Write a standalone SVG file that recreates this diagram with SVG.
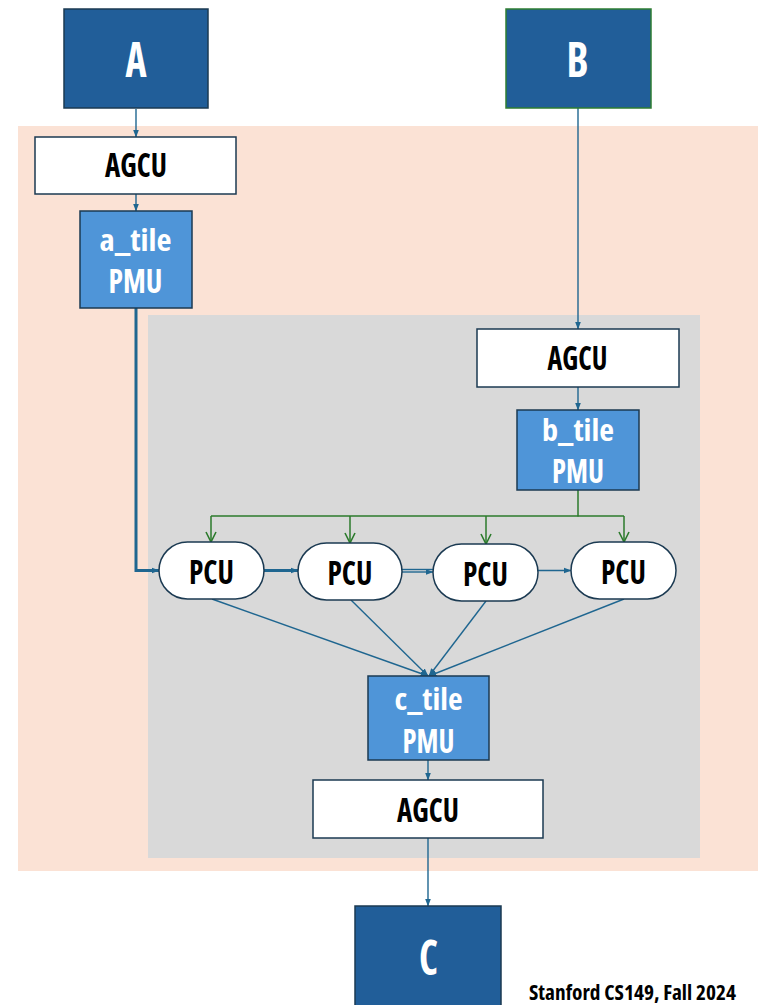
<svg xmlns="http://www.w3.org/2000/svg" width="759" height="1005" viewBox="0 0 759 1005">
  <defs>
    <marker id="arrowBlue" viewBox="0 0 8 8" refX="7.5" refY="4" markerWidth="8" markerHeight="8" markerUnits="userSpaceOnUse" orient="auto">
      <path d="M0,1 L8,4 L0,7 Z" fill="#1f6690"/>
    </marker>
    <marker id="arrowGreen" viewBox="0 0 12 12" refX="11" refY="6" markerWidth="12" markerHeight="12" markerUnits="userSpaceOnUse" orient="auto">
      <path d="M1,1 L11,6 L1,11" fill="none" stroke="#2b7a2b" stroke-width="1.6"/>
    </marker>
  </defs>
  <style>
    .t { font-family: "Open Sans", "Liberation Sans", sans-serif; font-weight: 700; font-stretch: condensed; text-anchor: middle; }
    .big { fill: #215e99; stroke: #1b3a52; stroke-width: 1.5; }
    .bigB { fill: #215e99; stroke: #2e7d32; stroke-width: 1.5; }
    .agcu { fill: #ffffff; stroke: #1b3a52; stroke-width: 1.5; }
    .pmu { fill: #4f95d8; stroke: #1b3a52; stroke-width: 1.5; }
    .pcu { fill: #ffffff; stroke: #1b3a52; stroke-width: 1.5; }
    .white { fill: #ffffff; }
    .black { fill: #000000; }
    .wire { fill: none; stroke: #1f6690; stroke-width: 1.4; }
    .thick { fill: none; stroke: #1f6690; stroke-width: 3; }
    .green { fill: none; stroke: #2b7a2b; stroke-width: 1.5; }
  </style>

  <!-- backgrounds -->
  <rect x="18" y="126" width="740" height="745" fill="#fbe2d5"/>
  <rect x="148" y="315" width="552" height="543" fill="#d9d9d9"/>

  <!-- connectors -->
  <g id="connectors">
    <line class="wire" x1="136" y1="109" x2="136" y2="137" marker-end="url(#arrowBlue)"/>
    <line class="wire" x1="136" y1="194" x2="136" y2="211" marker-end="url(#arrowBlue)"/>
    <path class="thick" d="M136,308 V570.5 H159" marker-end="url(#arrowBlue)"/>
    <line class="wire" x1="578" y1="108" x2="578" y2="329" marker-end="url(#arrowBlue)"/>
    <line class="wire" x1="578" y1="387" x2="578" y2="410" marker-end="url(#arrowBlue)"/>

    <path class="green" d="M578,490 V516.5" stroke-width="2.2"/>
    <path class="green" d="M211,516 H624"/>
    <line class="green" x1="211" y1="516" x2="211" y2="542" marker-end="url(#arrowGreen)"/>
    <line class="green" x1="350" y1="516" x2="350" y2="543" marker-end="url(#arrowGreen)"/>
    <line class="green" x1="486" y1="516" x2="486" y2="544" marker-end="url(#arrowGreen)"/>
    <line class="green" x1="624" y1="516" x2="624" y2="542" marker-end="url(#arrowGreen)"/>

    <line class="thick" x1="264" y1="570.5" x2="298" y2="570.5" marker-end="url(#arrowBlue)"/>
    <line class="wire" x1="402" y1="569.5" x2="433" y2="569.5"/>
    <line class="wire" x1="402" y1="572" x2="433" y2="572" marker-end="url(#arrowBlue)"/>
    <line class="wire" x1="538" y1="570.5" x2="571" y2="570.5" marker-end="url(#arrowBlue)"/>

    <line class="wire" x1="212" y1="599" x2="428" y2="676" marker-end="url(#arrowBlue)"/>
    <line class="wire" x1="351" y1="600" x2="428" y2="676" marker-end="url(#arrowBlue)"/>
    <line class="wire" x1="486" y1="601" x2="429" y2="676" marker-end="url(#arrowBlue)"/>
    <line class="wire" x1="624" y1="599" x2="429" y2="676" marker-end="url(#arrowBlue)"/>

    <line class="wire" x1="428" y1="760" x2="428" y2="780" marker-end="url(#arrowBlue)"/>
    <line class="wire" x1="428" y1="838" x2="428" y2="906" marker-end="url(#arrowBlue)"/>
  </g>

  <!-- nodes -->
  <g id="node-A">
    <rect class="big" x="64" y="9" width="144" height="99"/>
    <text class="t white" x="136" y="77" font-size="48" textLength="21" lengthAdjust="spacingAndGlyphs">A</text>
  </g>
  <g id="node-B">
    <rect class="bigB" x="506" y="9" width="145" height="99"/>
    <text class="t white" x="577.5" y="77" font-size="48" textLength="22" lengthAdjust="spacingAndGlyphs">B</text>
  </g>
  <g id="node-agcu-a">
    <rect class="agcu" x="35" y="137" width="201" height="57"/>
    <text class="t black" x="136" y="177" font-size="33" textLength="62" lengthAdjust="spacingAndGlyphs">AGCU</text>
  </g>
  <g id="node-a-tile">
    <rect class="pmu" x="80" y="211" width="112" height="97"/>
    <text class="t white" x="135.5" y="250.5" font-size="30" textLength="72" lengthAdjust="spacingAndGlyphs">a_tile</text>
    <text class="t white" x="135.5" y="293" font-size="33" textLength="54" lengthAdjust="spacingAndGlyphs">PMU</text>
  </g>
  <g id="node-agcu-b">
    <rect class="agcu" x="477" y="329" width="202" height="58"/>
    <text class="t black" x="577.5" y="370" font-size="33" textLength="60" lengthAdjust="spacingAndGlyphs">AGCU</text>
  </g>
  <g id="node-b-tile">
    <rect class="pmu" x="517" y="410" width="122" height="80"/>
    <text class="t white" x="578" y="440.5" font-size="30" textLength="72" lengthAdjust="spacingAndGlyphs">b_tile</text>
    <text class="t white" x="578" y="483" font-size="33" textLength="52" lengthAdjust="spacingAndGlyphs">PMU</text>
  </g>
  <g id="node-pcu-1">
    <rect class="pcu" x="159" y="542" width="105" height="57" rx="28.5"/>
    <text class="t black" x="211.5" y="584" font-size="33" textLength="45" lengthAdjust="spacingAndGlyphs">PCU</text>
  </g>
  <g id="node-pcu-2">
    <rect class="pcu" x="298" y="543" width="104" height="57" rx="28.5"/>
    <text class="t black" x="350" y="585" font-size="33" textLength="45" lengthAdjust="spacingAndGlyphs">PCU</text>
  </g>
  <g id="node-pcu-3">
    <rect class="pcu" x="433" y="544" width="105" height="57" rx="28.5"/>
    <text class="t black" x="485.5" y="586" font-size="33" textLength="45" lengthAdjust="spacingAndGlyphs">PCU</text>
  </g>
  <g id="node-pcu-4">
    <rect class="pcu" x="571" y="542" width="105" height="57" rx="28.5"/>
    <text class="t black" x="623.5" y="584" font-size="33" textLength="45" lengthAdjust="spacingAndGlyphs">PCU</text>
  </g>
  <g id="node-c-tile">
    <rect class="pmu" x="368" y="676" width="121" height="84"/>
    <text class="t white" x="428.5" y="710" font-size="30" textLength="68" lengthAdjust="spacingAndGlyphs">c_tile</text>
    <text class="t white" x="428.5" y="752.5" font-size="33" textLength="52" lengthAdjust="spacingAndGlyphs">PMU</text>
  </g>
  <g id="node-agcu-c">
    <rect class="agcu" x="313" y="780" width="230" height="58"/>
    <text class="t black" x="428" y="822" font-size="33" textLength="62" lengthAdjust="spacingAndGlyphs">AGCU</text>
  </g>
  <g id="node-C">
    <rect class="big" x="355" y="906" width="146" height="110"/>
    <text class="t white" x="428.5" y="975" font-size="48" textLength="19" lengthAdjust="spacingAndGlyphs">C</text>
  </g>

  <text class="t black" x="529" y="1000" font-size="21" text-anchor="start" style="text-anchor:start" textLength="207" lengthAdjust="spacingAndGlyphs">Stanford CS149, Fall 2024</text>
</svg>
